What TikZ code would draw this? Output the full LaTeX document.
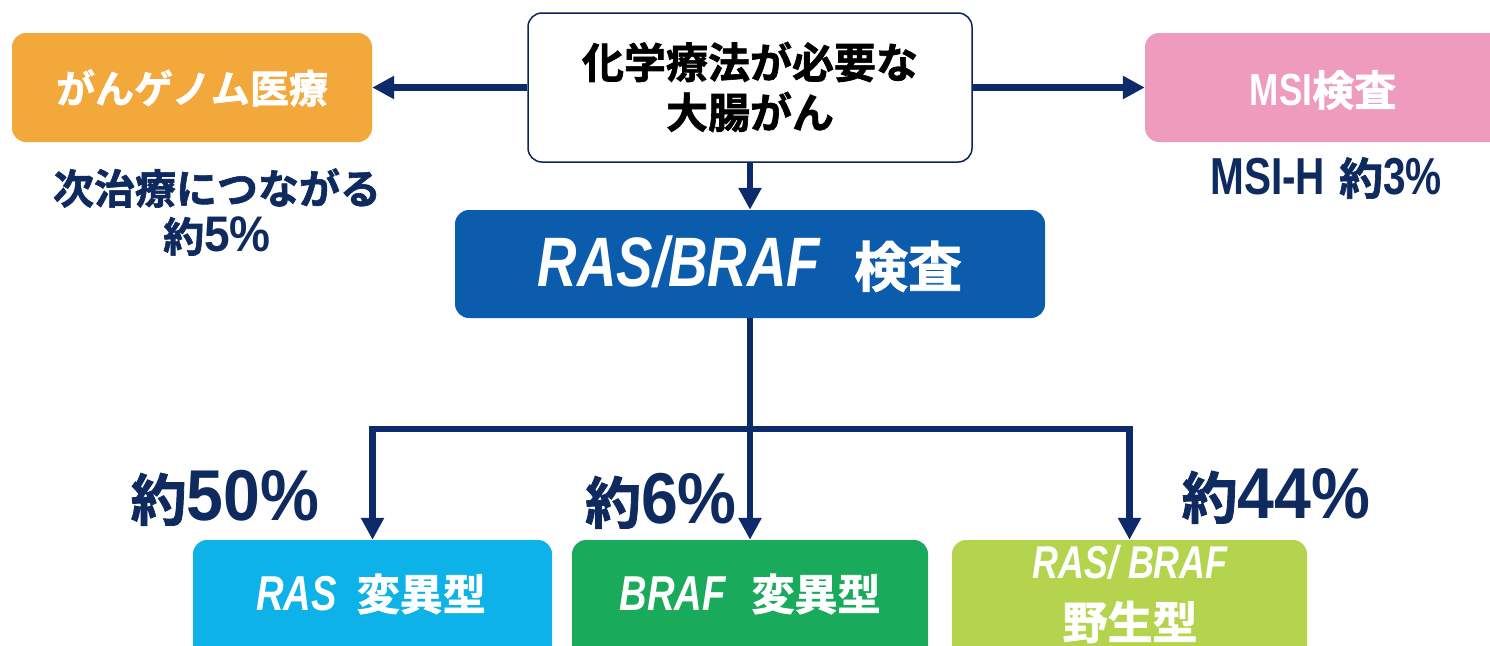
\documentclass[tikz,border=0pt]{standalone}
\usepackage{fontspec}
\usetikzlibrary{arrows.meta}
\newfontfamily\jp[FakeBold=1.5]{Noto Sans CJK JP Bold}
\newfontfamily\latn[FakeStretch=0.78]{Liberation Sans}
\newfontfamily\latw[FakeStretch=0.92]{Liberation Sans}
\definecolor{cOrange}{HTML}{F2A83A}
\definecolor{cPink}{HTML}{EF9BBE}
\definecolor{cBlue}{HTML}{0B5CAD}
\definecolor{cCyan}{HTML}{0DB2E9}
\definecolor{cGreen}{HTML}{1AAA5B}
\definecolor{cLime}{HTML}{B4D44D}
\definecolor{cNavy}{HTML}{0D2B6B}
\definecolor{cText}{HTML}{0E2A5E}
\tikzset{
  box/.style={rounded corners=14pt, inner sep=0pt, draw=none},
  wt/.style={text=white, inner sep=0pt, align=center},
  lbl/.style={text=cText, inner sep=0pt, align=center},
  conn/.style={draw=cNavy, line width=6.5pt},
  arr/.style={conn, -{Triangle[width=22pt,length=22pt]}},
  arr2/.style={conn, {Triangle[width=22pt,length=22pt]}-{Triangle[width=22pt,length=22pt]}},
}
\newcommand{\JP}[1]{\jp\fontsize{#1}{#1}\selectfont}
\newcommand{\LN}[1]{\latn\bfseries\fontsize{#1}{#1}\selectfont}
\newcommand{\LI}[1]{\latn\bfseries\itshape\fontsize{#1}{#1}\selectfont}
\newcommand{\LW}[1]{\latw\bfseries\fontsize{#1}{#1}\selectfont}
\begin{document}
\begin{tikzpicture}[x=1pt,y=-1pt]
\clip (0,0) rectangle (1490,645);
\fill[white] (0,0) rectangle (1490,645);
% boxes
\node[box, fill=cOrange, minimum width=360pt, minimum height=109pt] (orange) at (192,87.5) {};
\node[box, fill=white, draw=cNavy!85!black, line width=1.5pt, minimum width=444pt, minimum height=149pt] (start) at (750,87.5) {};
\node[box, fill=cPink, minimum width=385pt, minimum height=109pt] (pink) at (1337.5,87.5) {};
\node[box, fill=cBlue, minimum width=590pt, minimum height=108pt] (test) at (750,264) {};
\node[box, fill=cCyan, minimum width=359pt, minimum height=140pt] (ras) at (372.5,610) {};
\node[box, fill=cGreen, minimum width=356pt, minimum height=140pt] (braf) at (750,610) {};
\node[box, fill=cLime, minimum width=355pt, minimum height=140pt] (wild) at (1129.5,610) {};
% texts in boxes
\node[wt] (torange) at (192,88) {\JP{39}がんゲノム医療};
\node[lbl, text=black, font=\jp\fontsize{42}{50}\selectfont] (tstart) at (750,87) {化学療法が必要な\\大腸がん};
\node[wt] (tpink) at (1323,90) {{\LN{45}MSI}{\JP{42}検査}};
\node[wt] (ttest) at (750,264) {{\LI{70}RAS/BRAF}\hspace{34pt}{\JP{54}検査}};
\node[wt] (tras) at (371,594) {{\LI{49}RAS}\hspace{20pt}{\JP{43}変異型}};
\node[wt] (tbraf) at (750,594) {{\LI{49}BRAF}\hspace{26pt}{\JP{43}変異型}};
\node[wt] (twild1) at (1130,562) {\LI{46}RAS/ BRAF};
\node[wt] (twild2) at (1130,622) {\JP{45}野生型};
% labels
\node[lbl, font=\jp\fontsize{41}{48}\selectfont] (lgenome) at (217,212) {次治療につながる\\約{\LW{50}5\%}};
\node[lbl] (lmsi) at (1326,178) {{\LN{52}MSI-H}\hspace{14pt}{\JP{44}約}{\LN{52}3\%}};
\node[lbl] (l50) at (225,498) {{\JP{56}約}{\LW{72}50\%}};
\node[lbl] (l6) at (661,501) {{\JP{56}約}{\LW{72}6\%}};
\node[lbl] (l44) at (1276,496) {{\JP{56}約}{\LW{72}44\%}};
% connectors
\coordinate (hl) at (373,429);
\draw[arr] (start.west) -- (orange.east);
\draw[arr] (start.east) -- (pink.west);
\draw[arr] (start.south) -- (test.north);
\draw[arr] (test.south) -- (braf.north);
\draw[arr2] (ras.north) -- (ras.north |- hl) -- (wild.north |- hl) -- (wild.north);
\end{tikzpicture}
\end{document}
